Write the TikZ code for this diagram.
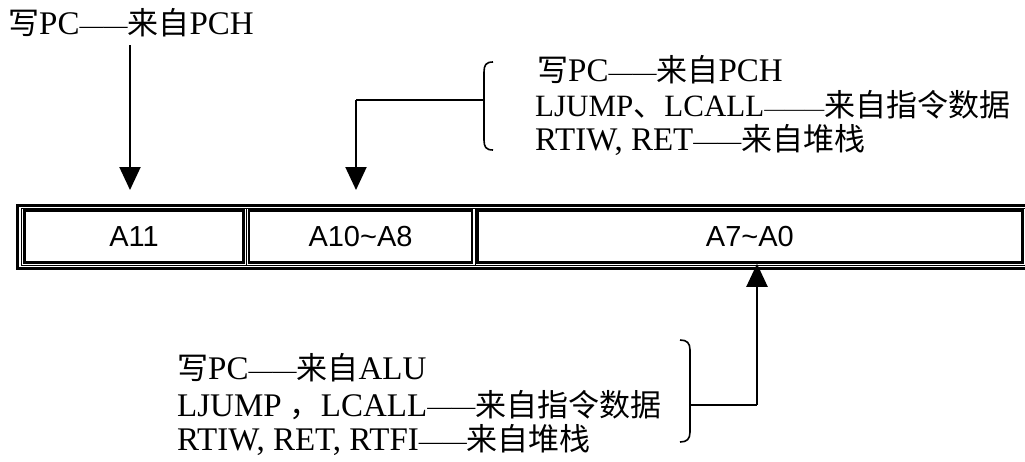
\documentclass[tikz,border=0pt]{standalone}
\usepackage{fontspec}
\setmainfont{Liberation Serif}
\newfontfamily\cjk{Noto Sans CJK SC}
\newfontfamily\arialf{Liberation Sans}
\usetikzlibrary{arrows.meta}
\newcommand\zhs[1]{{\cjk\fontsize{31}{33}\selectfont #1}}
\newcommand\dsh[1]{\raisebox{1.5pt}{\fontsize{24}{24}\selectfont #1}}
\begin{document}
\begin{tikzpicture}[x=1pt,y=-1pt,
  txt/.style={anchor=west, inner sep=0pt, font=\fontsize{33}{35}\selectfont},
  cell/.style={draw, line width=2.5pt, inner sep=0pt, minimum height=52pt, font=\arialf\fontsize{29}{30}\selectfont},
  frame/.style={line width=3pt},
  thin/.style={line width=1pt},
  conn/.style={line width=2pt},
  arr/.style={line width=2pt, -{Triangle[width=21pt,length=23pt]}},
  brk/.style={line width=1.6pt}]
\useasboundingbox (0,0) rectangle (1025,461);
\fill[white] (0,0) rectangle (1025,461);
% register
\draw[frame] (1025,205) -- (17.5,205) -- (17.5,268) -- (1025,268);
\draw[thin] (1025,208.3) -- (21.5,208.3) -- (21.5,265.2) -- (1025,265.2);
\draw[thin] (246.7,208.3) -- (246.7,265.2);
\draw[thin] (475,208.3) -- (475,265.2);
\node[cell, minimum width=219pt] (c1) at (134,236.5) {A11};
\node[cell, minimum width=223.4pt] (c2) at (360.5,236.5) {A10\textasciitilde A8};
\node[cell, minimum width=545.3pt] (c3) at (749.9,236.5) {A7\textasciitilde A0};
% top-left label
\node[txt] (t1) at (8,23) {\zhs{写}PC\dsh{——}\zhs{来自}PCH};
\coordinate (a1s) at (130,45);
\coordinate (a1e) at (130,190);
\draw[arr] (a1s) -- (a1e);
% right block
\node[txt] (r1) at (537,70) {\zhs{写}PC\dsh{——}\zhs{来自}PCH};
\node[txt, font=\fontsize{31}{33}\selectfont] (r2) at (535,105) {LJUMP\zhs{、}LCALL\raisebox{1.5pt}{\fontsize{20}{20}\selectfont ———}\zhs{来自指令数据}};
\node[txt] (r3) at (535,140) {RTIW, RET\dsh{——}\zhs{来自堆栈}};
\draw[brk] (493,62) .. controls (486,62) and (484,65) .. (484,72) -- (484,140) .. controls (484,147) and (486,150) .. (493,150);
\coordinate (rb) at (484,100);
\coordinate (rc) at (356,100);
\coordinate (a2e) at (356,190);
\draw[conn] (rb) -- (rc);
\draw[arr] (rc) -- (a2e);
% bottom block
\node[txt] (b1) at (177,368) {\zhs{写}PC\dsh{——}\zhs{来自}ALU};
\node[txt] (b2) at (177,405) {LJUMP \zhs{，}LCALL\dsh{——}\zhs{来自指令数据}};
\node[txt] (b3) at (177,440) {RTIW, RET, RTFI\dsh{——}\zhs{来自堆栈}};
\draw[brk] (680,340) .. controls (687,340) and (690,343) .. (690,350) -- (690,432) .. controls (690,439) and (687,442) .. (680,442);
\coordinate (bb) at (690,405);
\coordinate (bc) at (757,405);
\draw[conn] (bb) -- (bc);
\draw[arr] (bc) -- (c3.south -| bc);
\end{tikzpicture}
\end{document}
